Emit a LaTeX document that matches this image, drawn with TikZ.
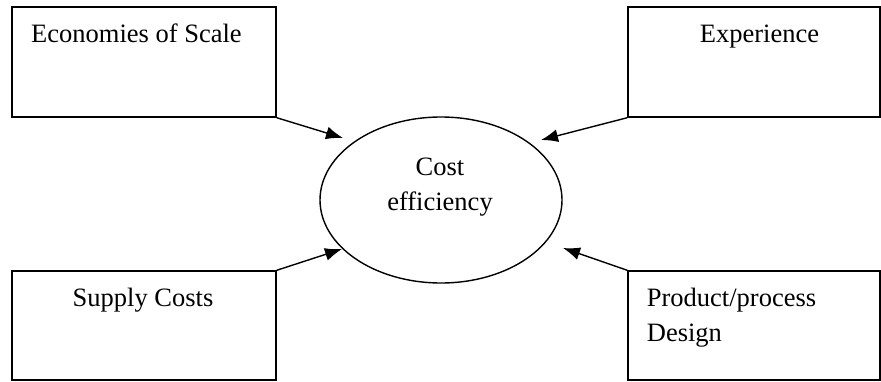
\documentclass[tikz,border=0pt]{standalone}
\usepackage{fontspec}
\setmainfont{Liberation Serif}
\usetikzlibrary{arrows.meta,shapes.geometric}
\begin{document}
\begin{tikzpicture}[x=1pt,y=-1pt,
  box/.style={draw,line width=1.4pt,rectangle,inner sep=0pt},
  label/.style={inner sep=0pt,font=\fontsize{26.5}{35.5}\selectfont},
  link/.style={line width=1.4pt,-{Latex[length=17pt,width=13pt]}}]
  \useasboundingbox (0,0) rectangle (881,381);
  % the four driver boxes
  \node[box,minimum width=264pt,minimum height=110pt] (scale) at (144,62) {};
  \node[box,minimum width=252pt,minimum height=110pt] (exp) at (754,62) {};
  \node[box,minimum width=264pt,minimum height=109pt] (supply) at (144,325.5) {};
  \node[box,minimum width=252pt,minimum height=109pt] (design) at (754,325.5) {};
  % central ellipse
  \node[draw,line width=1.4pt,ellipse,minimum width=242pt,minimum height=166pt,inner sep=0pt] (cost) at (441,200) {};
  % texts
  \node[label,anchor=base west] (tscale) at (31,42.7) {Economies of Scale};
  \node[label,anchor=base] (texp) at (759.5,42.7) {Experience};
  \node[label,anchor=base] (tsupply) at (143,306) {Supply Costs};
  \node[label,anchor=base west] (tdesign1) at (646.7,306) {Product/process};
  \node[label,anchor=base west] (tdesign2) at (646.7,341.7) {Design};
  \node[label,anchor=base] (tcost1) at (440,175) {Cost};
  \node[label,anchor=base] (tcost2) at (440,210) {efficiency};
  % arrow tips near the ellipse
  \coordinate (pa) at (343,138);
  \coordinate (pb) at (541,140);
  \coordinate (pc) at (342,249);
  \coordinate (pd) at (563,248);
  \draw[link] (scale.south east) -- (pa);
  \draw[link] (exp.south west) -- (pb);
  \draw[link] (supply.north east) -- (pc);
  \draw[link] (design.north west) -- (pd);
\end{tikzpicture}
\end{document}
